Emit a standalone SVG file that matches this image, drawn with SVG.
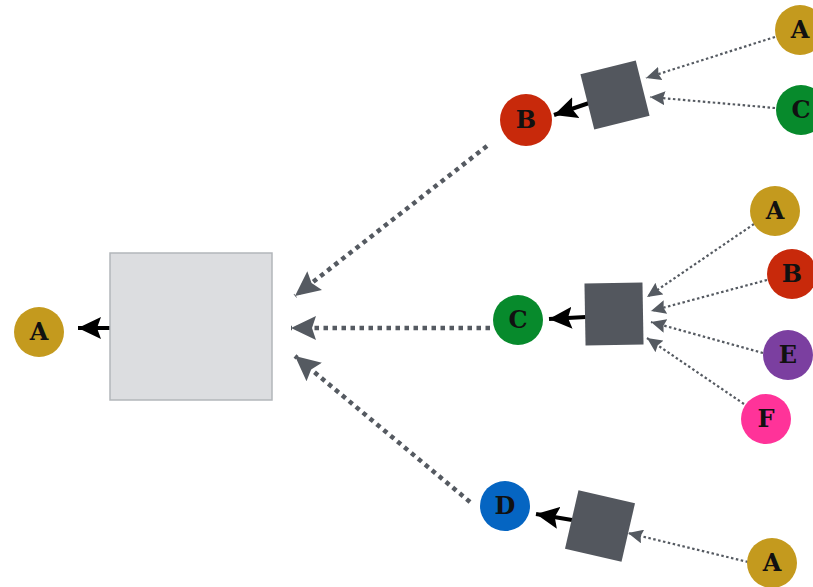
<svg xmlns="http://www.w3.org/2000/svg" width="813" height="587" viewBox="0 0 813 587">
<style>
.lbl{font-family:"DejaVu Serif","Liberation Serif",serif;font-weight:bold;font-size:24px;fill:#111;text-anchor:middle;dominant-baseline:central}
.big{fill:none;stroke:#555a61;stroke-width:4.5;stroke-dasharray:4.5 4.5}
.sm{fill:none;stroke:#555a61;stroke-width:2.2;stroke-dasharray:2.5 2.5}
.blk{fill:none;stroke:#000;stroke-width:4}
.op{fill:#53575e}
</style>
<defs>
<marker id="mBig" markerUnits="userSpaceOnUse" markerWidth="26" markerHeight="24" viewBox="0 0 26 24" refX="25" refY="12" orient="auto"><path d="M0,0 L25,12 L0,24 L4,12 Z" fill="#555a61"/></marker>
<marker id="mSm" markerUnits="userSpaceOnUse" markerWidth="16" markerHeight="14" viewBox="0 0 16 14" refX="15" refY="7" orient="auto"><path d="M0,0 L15,7 L0,14 L2,7 Z" fill="#555a61"/></marker>
<marker id="mBlk" markerUnits="userSpaceOnUse" markerWidth="24" markerHeight="22" viewBox="0 0 24 22" refX="23" refY="11" orient="auto"><path d="M0,0 L23,11 L0,22 L4,11 Z" fill="#000"/></marker>
</defs>
<g id="connectors">
<path class="big" d="M487,146 L295,296" marker-end="url(#mBig)"/>
<path class="big" d="M490,328 L291,328" marker-end="url(#mBig)"/>
<path class="big" d="M470,502 L295,356" marker-end="url(#mBig)"/>
<path class="blk" d="M110,328 L78,328" marker-end="url(#mBlk)"/>
<path class="blk" d="M589,103 L554,115" marker-end="url(#mBlk)"/>
<path class="blk" d="M586,317 L549,319" marker-end="url(#mBlk)"/>
<path class="blk" d="M572,520 L536,514" marker-end="url(#mBlk)"/>
<path class="sm" d="M775,37 L646,78" marker-end="url(#mSm)"/>
<path class="sm" d="M775,108 L650,97" marker-end="url(#mSm)"/>
<path class="sm" d="M754,224 L647,297" marker-end="url(#mSm)"/>
<path class="sm" d="M767,280 L651,311" marker-end="url(#mSm)"/>
<path class="sm" d="M763,353 L651,322" marker-end="url(#mSm)"/>
<path class="sm" d="M744,404 L647,338" marker-end="url(#mSm)"/>
<path class="sm" d="M748,562 L628,533" marker-end="url(#mSm)"/>
</g>
<g id="bigbox"><rect x="110" y="253" width="162" height="147" fill="#dcdde0" stroke="#b3b6ba" stroke-width="1.5"/></g>
<g id="op-top"><rect class="op" x="-28.5" y="-28.5" width="57" height="57" transform="translate(615,95) rotate(-14)"/></g>
<g id="op-mid"><rect class="op" x="-29" y="-31" width="58" height="62" transform="translate(614,314) rotate(-1)"/></g>
<g id="op-bot"><rect class="op" x="-29" y="-30" width="58" height="60" transform="translate(600,526) rotate(13)"/></g>
<g id="nA0"><circle cx="39" cy="332" r="25" fill="#c49a1e"/><text class="lbl" x="39" y="331">A</text></g>
<g id="nB"><circle cx="526" cy="120" r="26" fill="#c8290b"/><text class="lbl" x="526" y="119">B</text></g>
<g id="nC"><circle cx="518" cy="320" r="25" fill="#078a2c"/><text class="lbl" x="518" y="319">C</text></g>
<g id="nD"><circle cx="505" cy="506" r="25" fill="#0565c2"/><text class="lbl" x="505" y="505">D</text></g>
<g id="nA1"><circle cx="800" cy="30" r="25" fill="#c49a1e"/><text class="lbl" x="800" y="29">A</text></g>
<g id="nC1"><circle cx="801" cy="110" r="25" fill="#078a2c"/><text class="lbl" x="801" y="109">C</text></g>
<g id="nA2"><circle cx="775" cy="211" r="25" fill="#c49a1e"/><text class="lbl" x="775" y="210">A</text></g>
<g id="nB2"><circle cx="792" cy="274" r="25" fill="#c8290b"/><text class="lbl" x="792" y="273">B</text></g>
<g id="nE"><circle cx="788" cy="355" r="25" fill="#7b3fa0"/><text class="lbl" x="788" y="354">E</text></g>
<g id="nF"><circle cx="766" cy="419" r="25" fill="#ff3399"/><text class="lbl" x="766" y="418">F</text></g>
<g id="nA3"><circle cx="772" cy="563" r="25" fill="#c49a1e"/><text class="lbl" x="772" y="562">A</text></g>
</svg>
